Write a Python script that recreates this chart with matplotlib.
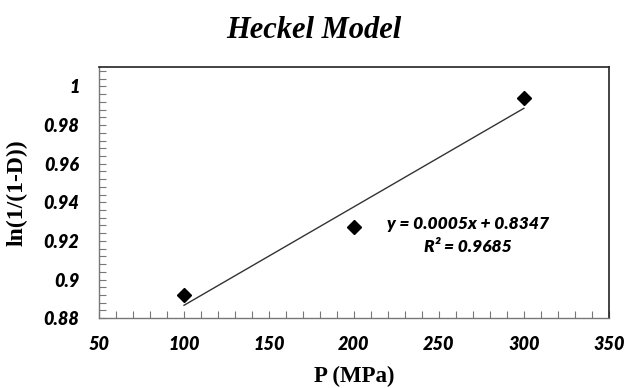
import numpy as np
import matplotlib
matplotlib.use("Agg")
import matplotlib.pyplot as plt
from matplotlib.ticker import MultipleLocator

# data
pressure = [100, 200, 300]
heckel = [0.892, 0.927, 0.994]
eq_text = "y = 0.0005x + 0.8347"
r2_text = "R\u00b2 = 0.9685"
x_ticks = [50, 100, 150, 200, 250, 300, 350]
y_ticks = [0.88, 0.9, 0.92, 0.94, 0.96, 0.98, 1]

fig = plt.figure(figsize=(6.27, 3.88), dpi=100)
ax = fig.add_axes([0.158, 0.180, 0.813, 0.647])

# points and linear trendline
ax.plot(pressure, heckel, 'D', color='black', markersize=7.5, zorder=3)
k, b = np.polyfit(pressure, heckel, 1)
xs = np.array([pressure[0], pressure[-1]])
ax.plot(xs, k * xs + b, color='#333333', linewidth=1.0)

ax.set_xlim(50, 350)
ax.set_ylim(0.88, 1.01)
ax.set_xticks(x_ticks)
ax.set_yticks(y_ticks)
ax.set_xticklabels([str(v) for v in x_ticks])
ax.set_yticklabels(["%g" % v for v in y_ticks])
ax.xaxis.set_minor_locator(MultipleLocator(10))
ax.yaxis.set_minor_locator(MultipleLocator(0.004))

ax.tick_params(which='both', direction='in', length=5, width=0.8, color='#777777')
ax.tick_params(axis='y', which='major', pad=14)
ax.tick_params(axis='x', which='major', pad=13)
for lab in ax.get_xticklabels() + ax.get_yticklabels():
    lab.set_fontfamily('Lato')
    lab.set_fontweight('heavy')
    lab.set_fontstyle('italic')
    lab.set_fontsize(13)

for side in ['left', 'bottom']:
    ax.spines[side].set_color('#777777')
    ax.spines[side].set_linewidth(1.0)
for side in ['top', 'right']:
    ax.spines[side].set_color('#222222')
    ax.spines[side].set_linewidth(1.2)

ax.text(267, 0.9288, eq_text, ha='center', va='center', fontsize=12.5,
        family='Lato', weight='heavy', style='italic')
ax.text(267, 0.9169, r2_text, ha='center', va='center', fontsize=12.5,
        family='Lato', weight='heavy', style='italic')

ax.set_xlabel("P (MPa)", fontsize=16.5, family='Liberation Serif', weight='bold')
ax.set_ylabel("ln(1/(1-D))", fontsize=17, family='Liberation Serif', weight='bold')
ax.xaxis.set_label_coords(0.5, -0.19)
ax.yaxis.set_label_coords(-0.14, 0.5)

fig.text(0.5, 0.922, "Heckel Model", ha='center', va='center', fontsize=22,
         family='Liberation Serif', weight='bold', style='italic')

fig.savefig("out.png", dpi=100)
